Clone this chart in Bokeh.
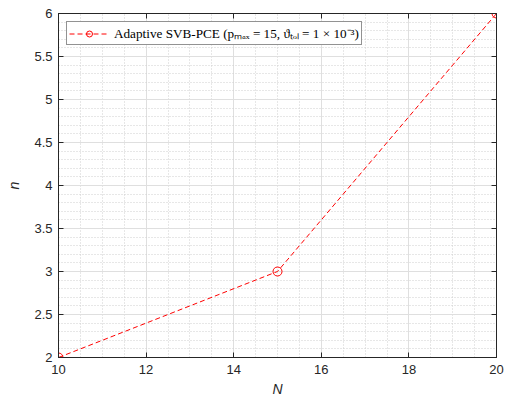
from bokeh.plotting import figure
from bokeh.models import (Range1d, FixedTicker, LinearAxis, Legend, LegendItem,
                          ColumnDataSource)
from bokeh.embed import file_html
from bokeh.resources import INLINE

# ---- data ----
N_values = [10, 15, 20]
n_values = [2, 3, 6]
series_label = "Adaptive SVB-PCE (pₘₐₓ = 15, ϑₜₒₗ = 1 × 10⁻³)"

x_ticks = [10, 12, 14, 16, 18, 20]
x_tick_labels = ["10", "12", "14", "16", "18", "20"]
x_minor = [10 + 0.5 * i for i in range(21)]
y_ticks = [2, 2.5, 3, 3.5, 4, 4.5, 5, 5.5, 6]
y_tick_labels = ["2", "2.5", "3", "3.5", "4", "4.5", "5", "5.5", "6"]
y_minor = [round(2 + 0.1 * i, 2) for i in range(41)]

AX = "#262626"
RED = "#ff0000"

p = figure(width=511, height=401, output_backend="svg", toolbar_location=None,
           x_range=Range1d(10, 20), y_range=Range1d(2, 6),
           min_border_left=58, min_border_right=15, min_border_top=13,
           min_border_bottom=44)
p.background_fill_color = "white"
p.border_fill_color = "white"
p.outline_line_color = AX

xt = FixedTicker(ticks=x_ticks, minor_ticks=x_minor)
yt = FixedTicker(ticks=y_ticks, minor_ticks=y_minor)

def style_axis(ax, ticker, labels, show_labels=True):
    ax.ticker = ticker
    ax.axis_line_color = AX
    ax.axis_line_width = 1
    ax.major_tick_line_color = AX
    ax.major_tick_in = 5
    ax.major_tick_out = 0
    ax.minor_tick_in = 0
    ax.minor_tick_out = 0
    if show_labels:
        ax.major_label_overrides = labels
        ax.major_label_text_font = "Liberation Sans"
        ax.major_label_text_font_size = "13px"
        ax.major_label_text_color = AX
        ax.major_label_standoff = 7
    else:
        ax.major_label_overrides = {k: "" for k in labels}
        ax.major_label_text_font_size = "1px"
        ax.major_label_standoff = 0

xlab = {v: s for v, s in zip(x_ticks, x_tick_labels)}
ylab = {v: s for v, s in zip(y_ticks, y_tick_labels)}

style_axis(p.xaxis[0], xt, xlab)
style_axis(p.yaxis[0], yt, ylab)
p.yaxis[0].major_label_standoff = 6
p.xaxis[0].axis_label = "N"
p.yaxis[0].axis_label = "n"
for ax in (p.xaxis[0], p.yaxis[0]):
    ax.axis_label_text_font = "Liberation Sans"
    ax.axis_label_text_font_style = "italic"
    ax.axis_label_text_font_size = "14px"
    ax.axis_label_text_color = AX
p.xaxis[0].axis_label_standoff = 4
p.yaxis[0].axis_label_standoff = 9

top = LinearAxis()
style_axis(top, xt, xlab, show_labels=False)
p.add_layout(top, "above")
right = LinearAxis()
style_axis(right, yt, ylab, show_labels=False)
p.add_layout(right, "right")

for g, t in ((p.xgrid[0], xt), (p.ygrid[0], yt)):
    g.ticker = t
    g.grid_line_color = "#dfdfdf"
    g.grid_line_width = 1
    g.minor_grid_line_color = "#cfcfcf"
    g.minor_grid_line_dash = "1 2"
    g.minor_grid_line_width = 1

src = ColumnDataSource(dict(x=N_values, y=n_values))
ln = p.line("x", "y", source=src, line_color=RED, line_width=1, line_dash="5 3")
sc = p.scatter("x", "y", source=src, marker="circle", size=9, fill_color=None,
               line_color=RED, line_width=1)

leg = Legend(items=[LegendItem(label=series_label, renderers=[ln, sc])],
             location="top_left", margin=8, padding=2, spacing=0,
             glyph_width=40, glyph_height=15, label_height=15,
             label_standoff=5, label_text_font="Liberation Serif",
             label_text_font_size="13.2px", label_text_color="black",
             border_line_color=AX, border_line_width=1,
             background_fill_color="white", background_fill_alpha=1)
p.add_layout(leg, "center")

open("out.html", "w").write(file_html(p, INLINE))
